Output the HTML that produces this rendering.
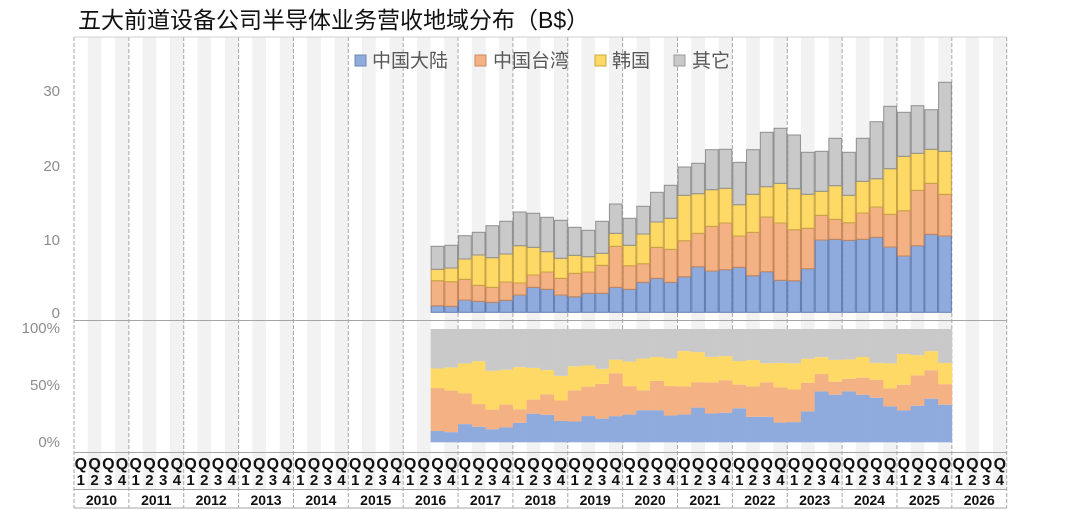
<!DOCTYPE html>
<html><head><meta charset="utf-8"><style>
body{margin:0;background:#fff;}
svg{display:block;font-family:"Liberation Sans","Noto Sans CJK SC",sans-serif;}
</style></head><body>
<svg id="s" width="1080" height="509" xmlns="http://www.w3.org/2000/svg">
<rect width="1080" height="509" fill="#fff"/>
<g id="bands"></g>
<g id="grid"></g>
<g id="bars"></g>
<g id="pct"></g>
<g id="axis"></g>
<text x="78" y="28" font-size="23" fill="#111">五大前道设备公司半导体业务营收地域分布（B$）</text>
<g font-size="19" fill="#595959">
<rect x="355" y="55" width="11" height="11" fill="#8faadc" stroke="#6f87b5"/><text x="372" y="67">中国大陆</text>
<rect x="475" y="55" width="11" height="11" fill="#f4b183" stroke="#c98c60"/><text x="493" y="67">中国台湾</text>
<rect x="595" y="55" width="11" height="11" fill="#ffd966" stroke="#c9a83e"/><text x="612" y="67">韩国</text>
<rect x="674" y="55" width="11" height="11" fill="#c9c9c9" stroke="#9a9a9a"/><text x="692" y="67">其它</text>
</g>
<g font-size="15" fill="#8c8c8c" text-anchor="end">
<text x="60" y="96">30</text><text x="60" y="171">20</text><text x="60" y="245">10</text><text x="60" y="318">0</text>
<text x="60" y="333">100%</text><text x="60" y="390">50%</text><text x="60" y="447">0%</text>
</g>
</svg>
<script>
var NS="http://www.w3.org/2000/svg";
function el(p,t,a,txt){var e=document.createElementNS(NS,t);for(var k in a)e.setAttribute(k,a[k]);if(txt!=null)e.textContent=txt;document.getElementById(p).appendChild(e);return e;}
var L=74,R=1006.7,T=37,W=(R-L)/68;
for(var i=0;i<68;i++){if(i%2==1)el("bands","rect",{x:L+i*W,y:T,width:W,height:489-T,fill:"#f2f2f2"});}
for(var y=0;y<=17;y++){var x=L+y*W*4;el("grid","line",{x1:x,y1:T,x2:x,y2:508,stroke:"#a6a6a6","stroke-dasharray":"4,2","stroke-width":1});}
el("grid","line",{x1:L,y1:320.5,x2:R,y2:320.5,stroke:"#a6a6a6"});
el("grid","line",{x1:L,y1:452.5,x2:R,y2:452.5,stroke:"#a6a6a6"});
el("grid","line",{x1:L,y1:489.5,x2:R,y2:489.5,stroke:"#a6a6a6"});
el("grid","line",{x1:L,y1:508,x2:R,y2:508,stroke:"#a6a6a6"});
el("grid","line",{x1:L,y1:T,x2:R,y2:T,stroke:"#d0d0d0"});
var D=[[305.7,280.7,269.3,246.3],[306.3,281.7,268,245.3],[300,279.3,259,235.7],[301.3,285.3,255,232.3],[302.3,287.3,257.7,225.7],[300.3,282,254,221.3],[295,283,245.7,212],[287.3,275,247.3,213.3],[289.3,272,251.7,217.3],[295,278.3,258.3,220.3],[296.7,273.3,255.3,227.3],[293.3,272,256.7,230.3],[293.3,265.3,253.3,221.3],[287.3,246.3,233.3,204],[289.3,265.7,245.3,218.3],[282.3,263.7,234,206.3],[278.3,247.3,222,192.3],[282.3,249.3,218.3,185.3],[276.7,240.7,195.3,167],[266.7,233.3,193.7,163.3],[271,226.3,189.7,149.7],[269.7,223,188.3,149.3],[267.3,236,204.7,162.3],[275.7,232.3,194.3,149.7],[271.7,217,186.7,132.3],[280.3,223,183.3,128.3],[280.7,229.7,188.7,135],[268.7,228.3,194.3,152.3],[240,215.3,191.3,151.3],[239.3,219.3,185.7,138.3],[240.3,222.7,195.3,152.3],[239.3,213,181.3,138.3],[237.3,207,178.7,121.7],[247,214.3,168.7,106.3],[256,210.7,156.3,112.3],[245.7,190.3,153.3,105.7],[234.3,183.3,149.3,109.7],[236,194.3,151.3,82.3]];
var F=["#8faadc","#f4b183","#ffd966","#c9c9c9"],S=["#5f7bb0","#c58659","#c7a443","#8f8f8f"];
var B=312.3,P0=442.3,P1=329;
D.forEach(function(d,i){var x=L+(26+i)*W;var prev=B;var tot=B-d[3];var pp=P0;
for(var k=0;k<4;k++){var t=d[k];el("bars","rect",{x:x+0.5,y:t,width:W-1,height:prev-t,fill:F[k],stroke:S[k],"stroke-width":1});
var h=(prev-t)/tot*(P0-P1);var ny=(k==3)?P1:pp-h;el("pct","rect",{x:x,y:ny,width:W+0.3,height:pp-ny,fill:F[k]});pp=ny;prev=t;}});
for(var i=0;i<68;i++){var cx=L+i*W+W/2;el("axis","text",{x:cx,y:469,"font-size":16,"font-weight":"bold","text-anchor":"middle",fill:"#111"},"Q");el("axis","text",{x:cx,y:485,"font-size":15,"font-weight":"bold","text-anchor":"middle",fill:"#111"},String(i%4+1));}
for(var y=0;y<17;y++){el("axis","text",{x:L+y*W*4+W*2,y:505,"font-size":14,"font-weight":"bold","text-anchor":"middle",fill:"#111"},String(2010+y));}
</script>
</body></html>
